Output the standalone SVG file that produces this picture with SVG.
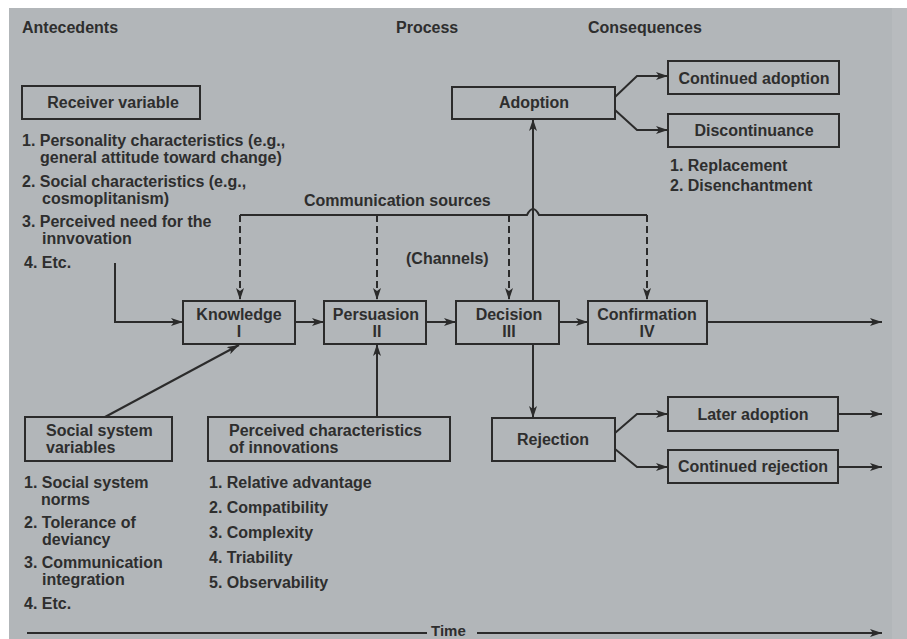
<svg xmlns="http://www.w3.org/2000/svg" width="907" height="639" viewBox="0 0 907 639">
<defs>
<marker id="ah" viewBox="0 0 12 8" refX="12" refY="4" markerWidth="12" markerHeight="8" markerUnits="userSpaceOnUse" orient="auto">
<path d="M0,0 L12,4 L0,8 L3,4 z" fill="#2b2b2b"/>
</marker>
<style>
text{font-family:"Liberation Sans",Arial,sans-serif;font-weight:bold;font-size:16px;fill:#2e2e2e}
.box{fill:none;stroke:#2b2b2b;stroke-width:2}
.ln{fill:none;stroke:#2b2b2b;stroke-width:2}
.arr{fill:none;stroke:#2b2b2b;stroke-width:2;marker-end:url(#ah)}
.dash{fill:none;stroke:#2b2b2b;stroke-width:2;stroke-dasharray:7,4;marker-end:url(#ah)}
.c{text-anchor:middle}
</style>
</defs>
<rect x="0" y="0" width="907" height="639" fill="#ffffff"/>
<rect x="9" y="8" width="898" height="631" fill="#b2b6b9"/>
<rect x="892" y="8" width="15" height="631" fill="#b8bbbe"/>

<g id="headers">
<text x="22" y="33">Antecedents</text>
<text x="396" y="33">Process</text>
<text x="588" y="33">Consequences</text>
</g>

<g id="receiver">
<rect class="box" x="22" y="86" width="178" height="33"/>
<text class="c" x="113" y="108">Receiver variable</text>
<text x="22" y="146">1. Personality characteristics (e.g.,</text>
<text x="40" y="163">general attitude toward change)</text>
<text x="22" y="187">2. Social characteristics (e.g.,</text>
<text x="42" y="204">cosmoplitanism)</text>
<text x="22" y="227">3. Perceived need for the</text>
<text x="42" y="244">innvovation</text>
<text x="24" y="268">4. Etc.</text>
</g>

<g id="comm-label">
<text x="304" y="206">Communication sources</text>
<text x="406" y="264">(Channels)</text>
</g>

<g id="knowledge">
<rect class="box" x="183" y="301" width="112" height="43"/>
<text class="c" x="239" y="320">Knowledge</text>
<text class="c" x="239" y="337">I</text>
</g>
<g id="persuasion">
<rect class="box" x="324" y="301" width="102" height="43"/>
<text class="c" x="376" y="320">Persuasion</text>
<text class="c" x="377" y="337">II</text>
</g>
<g id="decision">
<rect class="box" x="456" y="301" width="103" height="43"/>
<text class="c" x="509" y="320">Decision</text>
<text class="c" x="509" y="337">III</text>
</g>
<g id="confirmation">
<rect class="box" x="588" y="301" width="119" height="43"/>
<text class="c" x="647" y="320">Confirmation</text>
<text class="c" x="647" y="337">IV</text>
</g>

<g id="adoption">
<rect class="box" x="452" y="87" width="163" height="32"/>
<text class="c" x="534" y="108">Adoption</text>
</g>
<g id="continued-adoption">
<rect class="box" x="668" y="61" width="171" height="33"/>
<text class="c" x="754" y="84">Continued adoption</text>
</g>
<g id="discontinuance">
<rect class="box" x="668" y="114" width="171" height="33"/>
<text class="c" x="754" y="136">Discontinuance</text>
<text x="670" y="171">1. Replacement</text>
<text x="670" y="191">2. Disenchantment</text>
</g>

<g id="rejection">
<rect class="box" x="492" y="418" width="123" height="43"/>
<text class="c" x="553" y="445">Rejection</text>
</g>
<g id="later-adoption">
<rect class="box" x="668" y="397" width="170" height="34"/>
<text class="c" x="753" y="420">Later adoption</text>
</g>
<g id="continued-rejection">
<rect class="box" x="668" y="450" width="170" height="33"/>
<text class="c" x="753" y="472">Continued rejection</text>
</g>

<g id="social-system">
<rect class="box" x="25" y="417" width="147" height="44"/>
<text x="46" y="436">Social system</text>
<text x="46" y="453">variables</text>
<text x="24" y="488">1. Social system</text>
<text x="41" y="505">norms</text>
<text x="24" y="528">2. Tolerance of</text>
<text x="42" y="545">deviancy</text>
<text x="24" y="568">3. Communication</text>
<text x="42" y="585">integration</text>
<text x="24" y="609">4. Etc.</text>
</g>

<g id="perceived">
<rect class="box" x="208" y="417" width="242" height="44"/>
<text x="229" y="436">Perceived characteristics</text>
<text x="229" y="453">of innovations</text>
<text x="209" y="488">1. Relative advantage</text>
<text x="209" y="513">2. Compatibility</text>
<text x="209" y="538">3. Complexity</text>
<text x="209" y="563">4. Triability</text>
<text x="209" y="588">5. Observability</text>
</g>

<g id="time">
<text x="431" y="636" style="font-size:15px">Time</text>
</g>

<g id="connectors">
<path class="ln" d="M240,215 H527 Q533,203 539,215 H647"/>
<path class="dash" d="M240,215 V300"/>
<path class="dash" d="M377,215 V300"/>
<path class="dash" d="M509,215 V300"/>
<path class="dash" d="M647,215 V300"/>
<path class="arr" d="M115,263 V322 H183"/>
<path class="arr" d="M295,322 H324"/>
<path class="arr" d="M426,322 H456"/>
<path class="arr" d="M559,322 H588"/>
<path class="arr" d="M707,322 H882"/>
<path class="arr" d="M105,417 L239,345"/>
<path class="arr" d="M377,417 V344"/>
<path class="arr" d="M533,301 V119"/>
<path class="arr" d="M533,344 V418"/>
<path class="arr" d="M615,97 L637,76 H668"/>
<path class="arr" d="M615,110 L637,130 H668"/>
<path class="arr" d="M615,433 L637,414 H668"/>
<path class="arr" d="M615,449 L637,467 H668"/>
<path class="arr" d="M838,414 H882"/>
<path class="arr" d="M838,467 H882"/>
<path class="ln" d="M27,633 H427"/>
<path class="arr" d="M477,633 H882"/>
</g>
</svg>
